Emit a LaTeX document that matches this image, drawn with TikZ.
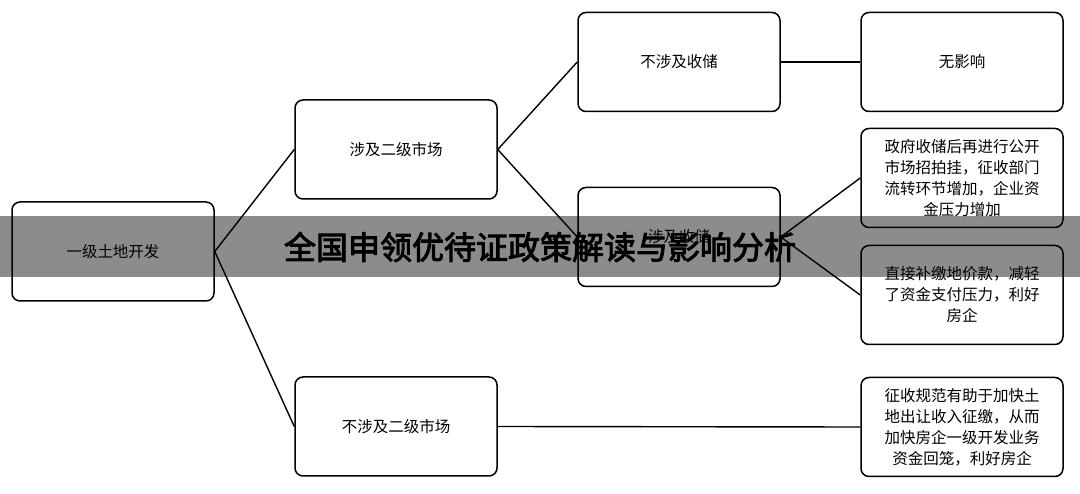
\documentclass[tikz,border=0pt]{standalone}
\usepackage{fontspec}
\setmainfont{Noto Sans CJK SC}
\newfontfamily\titlefont[FakeBold=3]{Noto Sans CJK SC}
\begin{document}
\begin{tikzpicture}[x=1pt,y=-1pt,
  bx/.style={draw,line width=1.5pt,rounded corners=8pt,minimum width=202pt,minimum height=99pt,align=center,font=\fontsize{15.5}{21}\selectfont,inner sep=0pt},
  ln/.style={line width=1.4pt}]
\useasboundingbox (0,0) rectangle (1080,494);
\node[bx] (A) at (113,251.5) {一级土地开发};
\node[bx] (B1) at (396,149.5) {涉及二级市场};
\node[bx] (B2) at (396,426.5) {不涉及二级市场};
\node[bx] (C1) at (679,62) {不涉及收储};
\node[bx] (C2) at (679,237) {涉及收储};
\node[bx] (D1) at (962,62) {无影响};
\node[bx] (D2) at (962,178) {政府收储后再进行公开\\市场招拍挂，征收部门\\流转环节增加，企业资\\金压力增加};
\node[bx] (D3) at (962,295) {直接补缴地价款，减轻\\了资金支付压力，利好\\房企};
\node[bx] (D4) at (962,427) {征收规范有助于加快土\\地出让收入征缴，从而\\加快房企一级开发业务\\资金回笼，利好房企};
\draw[ln] (A.east) -- (B1.west);
\draw[ln] (A.east) -- (B2.west);
\draw[ln] (B1.east) -- (C1.west);
\draw[ln] (B1.east) -- (C2.west);
\draw[ln] (C1.east) -- (D1.west);
\draw[ln] (C2.east) -- (D2.west);
\draw[ln] (C2.east) -- (D3.west);
\draw[ln] (B2.east) -- (D4.west);
\fill[black,opacity=0.45] (0,216) rectangle (1080,277);
\node[font=\titlefont\fontsize{32}{34}\selectfont] (T) at (540,247) {全国申领优待证政策解读与影响分析};
\end{tikzpicture}
\end{document}
